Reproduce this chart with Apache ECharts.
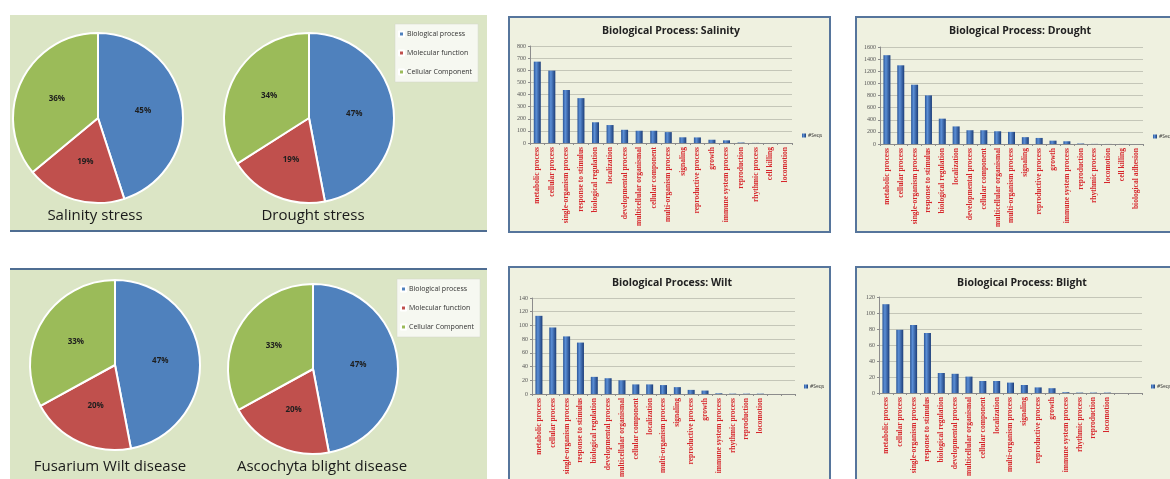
<!DOCTYPE html>
<html>
<head>
<meta charset="utf-8">
<script src="https://cdn.jsdelivr.net/npm/echarts@6/dist/echarts.min.js"></script>
<style>
  html, body { margin: 0; padding: 0; background: #ffffff; }
  #chart { width: 1170px; height: 479px; }
</style>
</head>
<body>
<div id="chart"></div>
<script>
// GO category shares (%) for each condition
const goClasses = ['Biological process', 'Molecular function', 'Cellular Component'];
const pieSalinity = [45, 19, 36];
const pieDrought = [47, 19, 34];
const pieWilt = [47, 20, 33];
const pieBlight = [47, 20, 33];

// Biological-process term counts (#Seqs)
const salinityCats = ['metabolic process', 'cellular process', 'single-organism process', 'response to stimulus',
  'biological regulation', 'localization', 'developmental process', 'multicellular organismal',
  'cellular component', 'multi-organism process', 'signaling', 'reproductive process', 'growth',
  'immune system process', 'reproduction', 'rhythmic process', 'cell killing', 'locomotion'];
const salinityVals = [671, 597, 437, 370, 171, 148, 109, 101, 101, 90, 47, 46, 27, 22, 4, 1, 0, 0];

const droughtCats = ['metabolic process', 'cellular process', 'single-organism process', 'response to stimulus',
  'biological regulation', 'localization', 'developmental process', 'cellular component',
  'multicellular organismal', 'multi-organism process', 'signaling', 'reproductive process', 'growth',
  'immune system process', 'reproduction', 'rhythmic process', 'locomotion', 'cell killing', 'biological adhesion'];
const droughtVals = [1465, 1298, 978, 802, 418, 290, 227, 227, 210, 200, 113, 100, 55, 45, 8, 2, 1, 1, 0];

const wiltCats = ['metabolic process', 'cellular process', 'single-organism process', 'response to stimulus',
  'biological regulation', 'developmental process', 'multicellular organismal', 'cellular component',
  'localization', 'multi-organism process', 'signaling', 'reproductive process', 'growth',
  'immune system process', 'rhythmic process', 'reproduction', 'locomotion', '', ' '];
const wiltVals = [114, 97, 84, 75, 25, 23, 20, 14, 14, 13, 10, 6, 5, 1, 0.5, 0.5, 0.5, null, null];

const blightCats = wiltCats.slice();
const blightVals = [111, 79, 85, 75, 25, 24, 20.5, 15, 15, 13, 10, 7, 6, 1, 0.5, 0.5, 0.5, null, null];

const chart = echarts.init(document.getElementById('chart'), null, { renderer: 'canvas' });

const PIE_COLORS = ['#4f81bd', '#c0504d', '#9bbb59'];
const BAR_FILL = new echarts.graphic.LinearGradient(0, 0, 1, 0, [
  { offset: 0, color: '#2a5597' },
  { offset: 0.35, color: '#5b8fd6' },
  { offset: 1, color: '#1c3d78' }
]);

function pieSeries(center, values) {
  return {
    type: 'pie',
    center: center,
    radius: 85,
    startAngle: 90,
    clockwise: true,
    color: PIE_COLORS,
    data: goClasses.map((n, i) => ({ name: n, value: values[i] })),
    itemStyle: { borderColor: '#ffffff', borderWidth: 2 },
    label: {
      position: 'inside',
      formatter: '{c}%',
      fontFamily: 'Open Sans',
      fontWeight: 'bold',
      fontSize: 8,
      color: '#1e1e1e'
    },
    labelLine: { show: false },
    emphasis: { scale: false }
  };
}

// grid boxes for the four bar panels
const grids = [
  { left: 530, top: 46, width: 262, height: 97 },
  { left: 880, top: 47, width: 263, height: 97 },
  { left: 532, top: 298, width: 263, height: 96 },
  { left: 879, top: 297, width: 263, height: 96 }
].map(g => Object.assign({ outerBoundsMode: 'none', containLabel: false }, g));

const catLists = [salinityCats, droughtCats, wiltCats, blightCats];
const valLists = [salinityVals, droughtVals, wiltVals, blightVals];
const yMax = [800, 1600, 140, 120];
const yStep = [100, 200, 20, 20];

const xAxes = catLists.map((cats, i) => ({
  type: 'category',
  gridIndex: i,
  data: cats,
  axisLine: { lineStyle: { color: '#8c8c8c', width: 1 } },
  axisTick: { show: true, length: 2, lineStyle: { color: '#8c8c8c' } },
  axisLabel: {
    interval: 0,
    rotate: 90,
    margin: 4,
    fontFamily: 'Liberation Serif',
    fontWeight: 'bold',
    fontSize: 7.5,
    color: '#d6262b'
  }
}));

const yAxes = yMax.map((m, i) => ({
  type: 'value',
  gridIndex: i,
  min: 0,
  max: m,
  interval: yStep[i],
  axisLine: { show: true, lineStyle: { color: '#8c8c8c', width: 1 } },
  axisTick: { show: true, length: 2, lineStyle: { color: '#8c8c8c' } },
  axisLabel: {
    fontFamily: 'Liberation Serif', fontSize: 6, color: '#555555', margin: 4,
    formatter: v => String(v)
  },
  splitLine: { lineStyle: { color: '#c4c6b8', width: 1 } }
}));

const barSeries = valLists.map((vals, i) => ({
  type: 'bar',
  name: '#Seqs',
  xAxisIndex: i,
  yAxisIndex: i,
  data: vals,
  barWidth: 7,
  itemStyle: { color: BAR_FILL }
}));

const barLegendPos = [[802, 133], [1153, 134], [804, 384], [1151, 384]];

const pieLegendCommon = {
  data: goClasses,
  orient: 'vertical',
  icon: 'rect',
  itemWidth: 5,
  itemHeight: 5,
  itemGap: 11,
  padding: [6, 6, 6, 3],
  backgroundColor: '#f6f8f1',
  borderColor: '#d2d6c8',
  borderWidth: 0.5,
  textStyle: { fontFamily: 'Open Sans', fontSize: 7, lineHeight: 8, color: '#333333', padding: [0, 0, 0, -2] }
};

const captionStyle = { fontFamily: 'Open Sans', fontSize: 15, fontWeight: 'normal', color: '#1a1a1a' };
const headStyle = { fontFamily: 'Open Sans', fontSize: 10.5, fontWeight: 'bold', color: '#222222' };

const option = {
  animation: false,
  backgroundColor: '#ffffff',
  graphic: [
    // pie panels
    { type: 'rect', z: -10, shape: { x: 10, y: 15, width: 477, height: 216 }, style: { fill: '#dbe5c5' } },
    { type: 'line', z: -9, shape: { x1: 10, y1: 231, x2: 487, y2: 231 }, style: { stroke: '#4f6d92', lineWidth: 2 } },
    { type: 'rect', z: -10, shape: { x: 10, y: 269, width: 477, height: 215 }, style: { fill: '#dbe5c5' } },
    { type: 'line', z: -9, shape: { x1: 10, y1: 269, x2: 487, y2: 269 }, style: { stroke: '#4f6d92', lineWidth: 2 } },
    // bar panels
    { type: 'rect', z: -10, shape: { x: 509, y: 17, width: 321, height: 215 }, style: { fill: '#eff1e0', stroke: '#56759c', lineWidth: 2 } },
    { type: 'rect', z: -10, shape: { x: 856, y: 17, width: 330, height: 215 }, style: { fill: '#eff1e0', stroke: '#56759c', lineWidth: 2 } },
    { type: 'rect', z: -10, shape: { x: 509, y: 267, width: 321, height: 230 }, style: { fill: '#eff1e0', stroke: '#56759c', lineWidth: 2 } },
    { type: 'rect', z: -10, shape: { x: 856, y: 267, width: 330, height: 230 }, style: { fill: '#eff1e0', stroke: '#56759c', lineWidth: 2 } }
  ],
  title: [
    { text: 'Salinity stress', left: 95, top: 208, textAlign: 'center', padding: 0, textStyle: captionStyle },
    { text: 'Drought stress', left: 313, top: 208, textAlign: 'center', padding: 0, textStyle: captionStyle },
    { text: 'Fusarium Wilt disease', left: 110, top: 459, textAlign: 'center', padding: 0, textStyle: captionStyle },
    { text: 'Ascochyta blight disease', left: 322, top: 459, textAlign: 'center', padding: 0, textStyle: captionStyle },
    { text: 'Biological Process: Salinity', left: 671, top: 26, textAlign: 'center', padding: 0, textStyle: headStyle },
    { text: 'Biological Process: Drought', left: 1020, top: 26, textAlign: 'center', padding: 0, textStyle: headStyle },
    { text: 'Biological Process: Wilt', left: 672, top: 278, textAlign: 'center', padding: 0, textStyle: headStyle },
    { text: 'Biological Process: Blight', left: 1022, top: 278, textAlign: 'center', padding: 0, textStyle: headStyle }
  ],
  legend: [
    Object.assign({}, pieLegendCommon, { left: 395, top: 24 }),
    Object.assign({}, pieLegendCommon, { left: 397, top: 279 })
  ].concat(barLegendPos.map(p => ({
    data: ['#Seqs'],
    left: p[0],
    top: p[1],
    icon: 'rect',
    itemWidth: 4,
    itemHeight: 4,
    itemGap: 0,
    padding: 0,
    textStyle: { fontFamily: 'Open Sans', fontSize: 5, color: '#333333', padding: [0, 0, 0, -3] }
  }))),
  grid: grids,
  xAxis: xAxes,
  yAxis: yAxes,
  series: [
    pieSeries([98, 118], pieSalinity),
    pieSeries([309, 118], pieDrought),
    pieSeries([115, 365], pieWilt),
    pieSeries([313, 369], pieBlight)
  ].concat(barSeries)
};

chart.setOption(option);
</script>
</body>
</html>
